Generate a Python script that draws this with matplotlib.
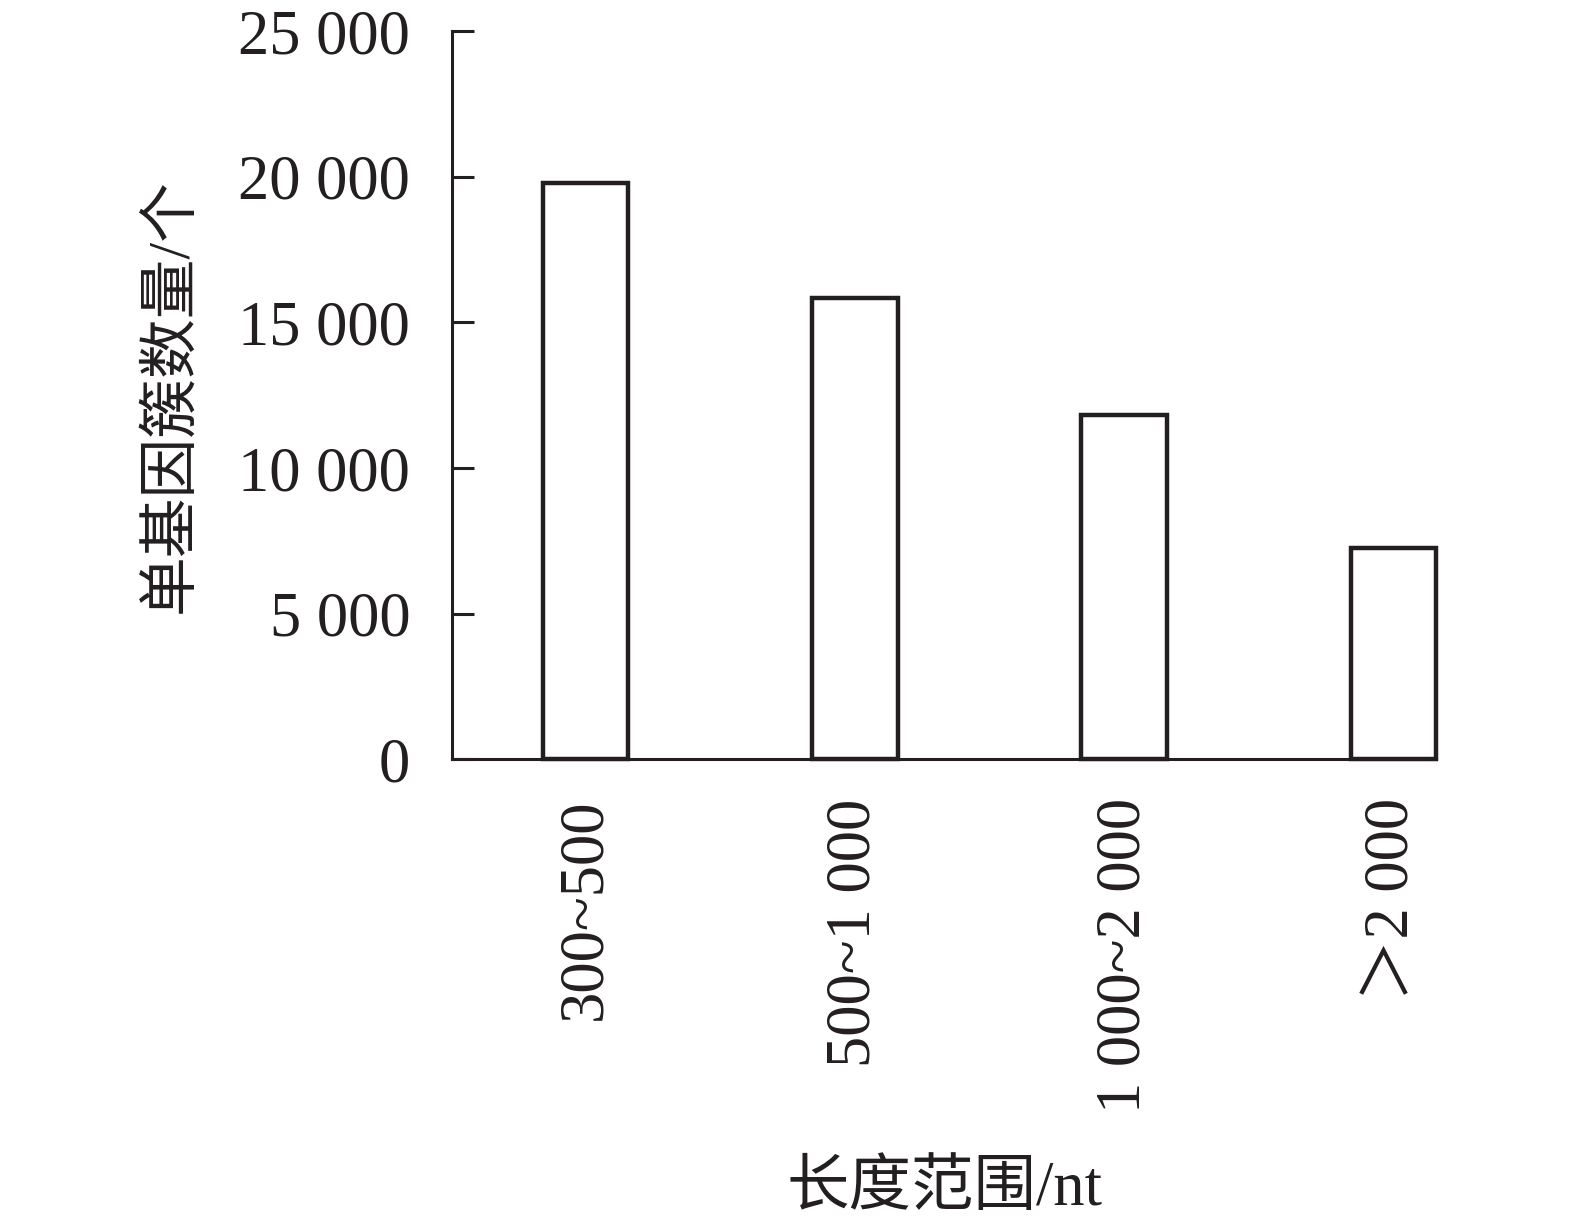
import numpy as np
import matplotlib
matplotlib.use("Agg")
import matplotlib.pyplot as plt

plt.rcParams['font.family'] = ['Liberation Serif', 'Noto Sans CJK SC']

# 数据
categories = ["300~500", "500~1 000", "1 000~2 000", "＞2 000"]
counts = [19800, 15850, 11820, 7260]
yticks = [0, 5000, 10000, 15000, 20000, 25000]
ytick_labels = ["0", "5 000", "10 000", "15 000", "20 000", "25 000"]

fig = plt.figure(figsize=(15.75, 12.18), dpi=100)
ax = fig.add_axes([0.287, 0.3765, 0.625, 0.598])

x = np.arange(len(categories))
ax.bar(x, counts, width=0.317, color="white", edgecolor="#231f20",
       linewidth=3.2, clip_on=False)

ax.set_xlim(-0.497, 3.16)
ax.set_ylim(0, 25000)
ax.set_yticks(yticks)
ax.set_yticklabels(ytick_labels, fontsize=45)
ax.set_xticks(x)
ax.set_xticklabels(categories, rotation=90, fontsize=45, va="top")

for s in ["top", "right"]:
    ax.spines[s].set_visible(False)
for s in ["left", "bottom"]:
    ax.spines[s].set_linewidth(2.2)
    ax.spines[s].set_color("#231f20")

ax.tick_params(axis="y", direction="in", length=16, width=2.2, pad=30, colors="#231f20")
ax.tick_params(axis="x", length=0, pad=28, colors="#231f20")

ax.set_ylabel("单基因簇数量/个", fontsize=43, labelpad=28, color="#231f20")
ax.set_xlabel("长度范围/nt", fontsize=45, labelpad=34, color="#231f20")

plt.savefig("out.png", dpi=100)
